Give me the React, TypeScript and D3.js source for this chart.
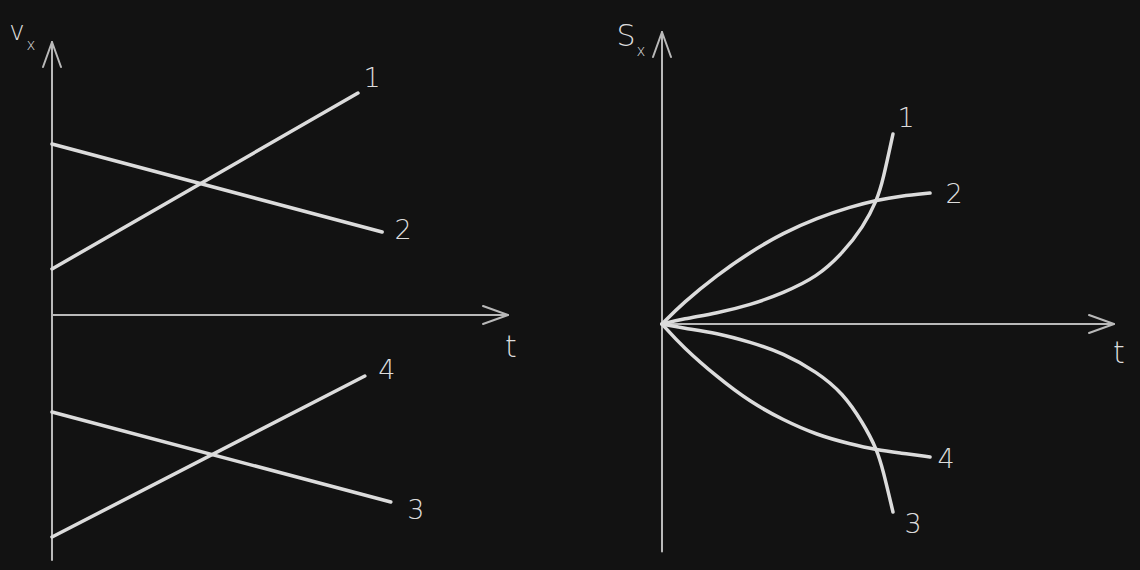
import React from 'react';
import * as d3 from 'd3';

// v_x(t) lines: [t, v] pairs (start, end)
const velocityNames = ['1', '2', '3', '4'];
const velocityStart = [[0, 1.84], [0, 6.84], [0, -3.88], [0, -8.88]];
const velocityEnd = [[6.71, 8.88], [7.24, 3.32], [7.43, -7.48], [6.86, -2.44]];

// s_x(t) curves
const positionNames = ['1', '2', '3', '4'];
const positionT = [
    [0, 0.46, 1.22, 1.95, 2.68, 3.43, 4.0, 4.45, 4.76, 4.89, 5.11],
    [0, 0.46, 1.22, 1.95, 2.68, 3.43, 4.16, 4.76, 5.27, 5.93],
    [0, 0.46, 1.22, 1.95, 2.68, 3.43, 4.0, 4.45, 4.76, 4.89, 5.11],
    [0, 0.46, 1.22, 1.95, 2.68, 3.43, 4.16, 4.76, 5.27, 5.93]
];
const positionS = [
    [0, 0.2, 0.44, 0.76, 1.24, 1.88, 2.84, 3.88, 4.96, 5.76, 7.6],
    [0, 0.84, 1.96, 2.88, 3.64, 4.24, 4.68, 4.96, 5.12, 5.24],
    [0, -0.16, -0.36, -0.72, -1.16, -1.92, -2.76, -3.96, -5.04, -5.84, -7.52],
    [0, -0.92, -2.12, -3.12, -3.84, -4.44, -4.8, -5.04, -5.16, -5.32]
];

const BG = '#121212';
const AXIS = '#b9b9b9';
const INK = '#dcdcdc';
const FONT = '"DejaVu Sans", "Noto Sans", sans-serif';

// label offsets (px) from the end of each line
const leftLabelOffset = [[14, -16], [21, -3], [25, 7], [22, -7]];
const rightLabelOffset = [[13, -17], [24, 0], [20, 11], [16, 1]];

const Label = ({ x, y, size = 27, children }) => (
    <text x={x} y={y} fill={INK} fontSize={size} textAnchor="middle" dominantBaseline="central"
        fontFamily={FONT} fontWeight={300}>{children}</text>
);

const Arrow = ({ x1, y1, x2, y2, head = 25, spread = 9 }) => {
    const ang = Math.atan2(y2 - y1, x2 - x1);
    const bx = x2 - head * Math.cos(ang);
    const by = y2 - head * Math.sin(ang);
    const nx = -Math.sin(ang) * spread;
    const ny = Math.cos(ang) * spread;
    return (
        <g stroke={AXIS} strokeWidth={2} fill="none" strokeLinecap="round" strokeLinejoin="round">
            <line x1={x1} y1={y1} x2={x2} y2={y2} />
            <polyline points={`${bx + nx},${by + ny} ${x2},${y2} ${bx - nx},${by - ny}`} />
        </g>
    );
};

const VelocityPanel = () => {
    const x = d3.scaleLinear().domain([0, 10]).range([52, 508]);
    const y = d3.scaleLinear().domain([-10, 10]).range([565, 65]);
    const line = d3.line().x(d => x(d[0])).y(d => y(d[1]));
    return (
        <g>
            <Arrow x1={x(0)} y1={y(-9.8)} x2={x(0)} y2={y(10.92)} />
            <Arrow x1={x(0)} y1={y(0)} x2={x(10)} y2={y(0)} />
            {velocityNames.map((name, i) => {
                const end = velocityEnd[i];
                return (
                    <g key={name}>
                        <path d={line([velocityStart[i], end])} stroke={INK} strokeWidth={3.5} fill="none" strokeLinecap="round" />
                        <Label x={x(end[0]) + leftLabelOffset[i][0]} y={y(end[1]) + leftLabelOffset[i][1]}>{name}</Label>
                    </g>
                );
            })}
            <Label x={511} y={346} size={30}>t</Label>
            <Label x={17} y={31} size={26}>v</Label>
            <Label x={31} y={45} size={15}>x</Label>
        </g>
    );
};

const PositionPanel = () => {
    const x = d3.scaleLinear().domain([0, 10]).range([662, 1114]);
    const y = d3.scaleLinear().domain([-10, 10]).range([574, 74]);
    const curve = d3.line().x(d => x(d[0])).y(d => y(d[1])).curve(d3.curveBasis);
    return (
        <g>
            <Arrow x1={x(0)} y1={y(-9.1)} x2={x(0)} y2={y(11.68)} />
            <Arrow x1={x(0)} y1={y(0)} x2={x(10)} y2={y(0)} />
            {positionNames.map((name, i) => {
                const pts = positionT[i].map((t, j) => [t, positionS[i][j]]);
                const end = pts[pts.length - 1];
                return (
                    <g key={name}>
                        <path d={curve(pts)} stroke={INK} strokeWidth={3.5} fill="none" strokeLinecap="round" />
                        <Label x={x(end[0]) + rightLabelOffset[i][0]} y={y(end[1]) + rightLabelOffset[i][1]}>{name}</Label>
                    </g>
                );
            })}
            <Label x={1119} y={352} size={30}>t</Label>
            <Label x={626} y={35} size={30}>S</Label>
            <Label x={641} y={51} size={15}>x</Label>
        </g>
    );
};

export default function App() {
    return (
        <svg width={1140} height={570} viewBox="0 0 1140 570"
            style={{ position: 'fixed', top: 0, left: 0, display: 'block', background: BG }}>
            <rect width={1140} height={570} fill={BG} />
            <VelocityPanel />
            <PositionPanel />
        </svg>
    );
}
